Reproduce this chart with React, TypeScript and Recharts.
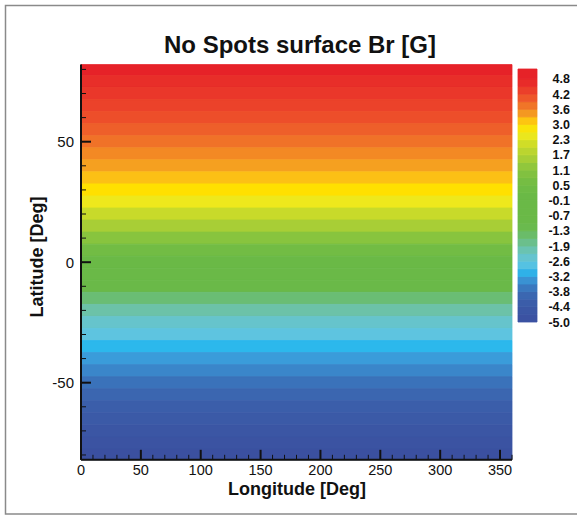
import React from "react";
import { ComposedChart, XAxis, YAxis, ReferenceArea } from "recharts";

// latitude of each row centre [deg] and surface Br [G]
const LATITUDES = [80, 75, 70, 65, 60, 55, 50, 45, 40, 35, 30, 25, 20, 15, 10, 5, 0,
	-5, -10, -15, -20, -25, -30, -35, -40, -45, -50, -55, -60, -65, -70, -75, -80];
const BR_VALUES = [4.8, 4.6, 4.45, 4.3, 4.15, 3.95, 3.75, 3.55, 3.35, 3.15, 2.95, 2.55, 2.1, 1.6, 1.15, 0.6, 0.1,
	-0.5, -1.1, -1.6, -2.0, -2.35, -2.65, -2.95, -3.2, -3.45, -3.7, -3.95, -4.2, -4.4, -4.6, -4.8, -5.0];

const LON_TICKS = [0, 10, 20, 30, 40, 50, 60, 70, 80, 90, 100, 110, 120, 130, 140, 150, 160, 170, 180,
	190, 200, 210, 220, 230, 240, 250, 260, 270, 280, 290, 300, 310, 320, 330, 340, 350, 360];
const LAT_TICKS = [-80, -70, -60, -50, -40, -30, -20, -10, 0, 10, 20, 30, 40, 50, 60, 70, 80];

// colour bar labels, bottom to top
const LEVEL_LABELS = ["-5.0", "-4.4", "-3.8", "-3.2", "-2.6", "-1.9", "-1.3", "-0.7", "-0.1",
	"0.5", "1.1", "1.7", "2.3", "3.0", "3.6", "4.2", "4.8"];

// colour map: value -> colour
const CMAP_VALUES = [-5.0, -4.6, -4.2, -3.95, -3.7, -3.45, -3.2, -2.95, -2.65, -2.35, -2.0, -1.6, -1.1,
	0.1, 0.6, 1.15, 1.6, 2.1, 2.55, 2.95, 3.15, 3.35, 3.75, 4.0, 4.4, 4.8];
const CMAP_COLORS = ["#3b50a0", "#3b56a4", "#3b5eaa", "#3b66b0", "#3a72ba", "#3a86ca", "#3a9cda", "#2cb8ec",
	"#5ec4e0", "#66c4cc", "#6cc2a8", "#6abd74", "#6ab948", "#6ab946", "#72bc44", "#88c43e", "#a8ce36",
	"#c8da2a", "#eee81c", "#ffe000", "#fcc015", "#f5a020", "#f07228", "#ee5a2a", "#ea3a2a", "#e62228"];

const FONT = "'Liberation Sans', Arial, Helvetica, sans-serif";
const LAT_MIN = -82;
const LAT_MAX = 82;
const BAR_MIN = -5.0;
const BAR_MAX = 4.8;
const BAR_TOP = 5.2;

function hexToRgb(h: string) {
	return [1, 3, 5].map((i) => parseInt(h.slice(i, i + 2), 16));
}

function colorFor(v: number) {
	if (v <= CMAP_VALUES[0]) return CMAP_COLORS[0];
	const n = CMAP_VALUES.length;
	if (v >= CMAP_VALUES[n - 1]) return CMAP_COLORS[n - 1];
	let i = 0;
	while (CMAP_VALUES[i + 1] < v) i++;
	const t = (v - CMAP_VALUES[i]) / (CMAP_VALUES[i + 1] - CMAP_VALUES[i]);
	const a = hexToRgb(CMAP_COLORS[i]);
	const b = hexToRgb(CMAP_COLORS[i + 1]);
	const c = a.map((x, k) => Math.round(x + (b[k] - x) * t));
	return `rgb(${c[0]},${c[1]},${c[2]})`;
}

// rows of the contour plot, edges half way between row centres
const rows = LATITUDES.map((lat, i) => {
	const top = i === 0 ? LAT_MAX : (lat + LATITUDES[i - 1]) / 2;
	const bottom = i === LATITUDES.length - 1 ? LAT_MIN : (lat + LATITUDES[i + 1]) / 2;
	return { top, bottom, fill: colorFor(BR_VALUES[i]) };
});

// colour bar blocks
const levelStep = (BAR_MAX - BAR_MIN) / (LEVEL_LABELS.length - 1);
const levelTicks = LEVEL_LABELS.map((_, i) => BAR_MIN + i * levelStep);
const barBlocks: { y1: number; y2: number; fill: string }[] = [];
for (let i = 0; i < (LEVEL_LABELS.length - 1) * 2; i++) {
	const y1 = BAR_MIN + (i * levelStep) / 2;
	const y2 = y1 + levelStep / 2;
	barBlocks.push({ y1, y2, fill: colorFor((y1 + y2) / 2) });
}
barBlocks.push({ y1: BAR_MAX, y2: BAR_TOP, fill: colorFor(BAR_MAX) });

const LonTick = (props: any) => {
	const { x, y, payload } = props;
	const v = payload.value;
	const major = v % 50 === 0;
	return (
		<g>
			<line x1={x} x2={x} y1={y} y2={y - (major ? 10 : 5)} stroke="#111" strokeWidth={major ? 2 : 1} />
			{major && v < 360 && (
				<text x={x} y={y + 15} textAnchor="middle" fontSize={14.5} fontFamily={FONT} fill="#111">
					{v}
				</text>
			)}
		</g>
	);
};

const LatTick = (props: any) => {
	const { x, y, payload } = props;
	const v = payload.value;
	const major = v % 50 === 0;
	return (
		<g>
			<line x1={x} x2={x + (major ? 10 : 5)} y1={y} y2={y} stroke="#111" strokeWidth={major ? 2 : 1} />
			{major && (
				<text x={x - 7} y={y} dy="0.36em" textAnchor="end" fontSize={15} fontFamily={FONT} fill="#111">
					{v}
				</text>
			)}
		</g>
	);
};

const LevelTick = (props: any) => {
	const { x, y, index } = props;
	return (
		<text x={x + 33} y={y} dy="0.36em" textAnchor="end" fontSize={12.5} fontWeight="bold" fontFamily={FONT} fill="#111">
			{LEVEL_LABELS[index]}
		</text>
	);
};

export default function App() {
	return (
		<div style={{ position: "absolute", left: 0, top: 0, width: 577, height: 516, background: "#fff", overflow: "hidden" }}>
			<div style={{ position: "absolute", left: 0, top: 0 }}>
				<ComposedChart width={577} height={516} data={[]} margin={{ top: 64.6, right: 65, bottom: 26.2, left: 21 }}>
					<XAxis
						type="number"
						dataKey="lon"
						domain={[0, 360]}
						ticks={LON_TICKS}
						interval={0}
						allowDataOverflow
						height={30}
						tickSize={0}
						tickMargin={0}
						tick={LonTick}
						axisLine={{ stroke: "#111", strokeWidth: 2 }}
						tickLine={false}
					/>
					<YAxis
						type="number"
						dataKey="lat"
						domain={[LAT_MIN, LAT_MAX]}
						ticks={LAT_TICKS}
						interval={0}
						allowDataOverflow
						width={60}
						tickSize={0}
						tickMargin={0}
						tick={LatTick}
						axisLine={{ stroke: "#111", strokeWidth: 2 }}
						tickLine={false}
					/>
					{rows.map((r, i) => (
						<ReferenceArea
							key={i}
							y1={r.bottom}
							y2={r.top}
							fill={r.fill}
							fillOpacity={1}
							stroke={r.fill}
							strokeWidth={0.8}
							ifOverflow="visible"
						/>
					))}
				</ComposedChart>
			</div>
			<div style={{ position: "absolute", left: 0, top: 0 }}>
				<ComposedChart width={577} height={516} data={[]} margin={{ top: 69, right: 4, bottom: 194, left: 518 }}>
					<XAxis
						type="number"
						dataKey="x"
						domain={[0, 1]}
						allowDataOverflow
						height={0}
						tick={false}
						axisLine={false}
						tickLine={false}
					/>
					<YAxis
						type="number"
						dataKey="v"
						orientation="right"
						domain={[BAR_MIN, BAR_TOP]}
						ticks={levelTicks}
						interval={0}
						allowDataOverflow
						width={36}
						tickSize={0}
						tickMargin={0}
						tick={LevelTick}
						axisLine={false}
						tickLine={false}
					/>
					{barBlocks.map((b, i) => (
						<ReferenceArea
							key={i}
							x1={0}
							x2={1}
							y1={b.y1}
							y2={b.y2}
							fill={b.fill}
							fillOpacity={1}
							stroke={b.fill}
							strokeWidth={0.8}
							ifOverflow="visible"
						/>
					))}
				</ComposedChart>
			</div>
			<svg width={577} height={516} style={{ position: "absolute", left: 0, top: 0, pointerEvents: "none" }}>
				<rect x={5.5} y={5.5} width={580} height={508.5} fill="none" stroke="#8a8a8a" strokeWidth={1.5} />
				<text x={300} y={53} textAnchor="middle" fontSize={24} fontWeight="bold" fontFamily={FONT} fill="#111">
					No Spots surface Br [G]
				</text>
				<text x={297} y={495} textAnchor="middle" fontSize={18} fontWeight="bold" fontFamily={FONT} fill="#111">
					Longitude [Deg]
				</text>
				<text
					x={43}
					y={257}
					textAnchor="middle"
					fontSize={18}
					fontWeight="bold"
					fontFamily={FONT}
					fill="#111"
					transform="rotate(-90 43 257)"
				>
					Latitude [Deg]
				</text>
			</svg>
		</div>
	);
}
